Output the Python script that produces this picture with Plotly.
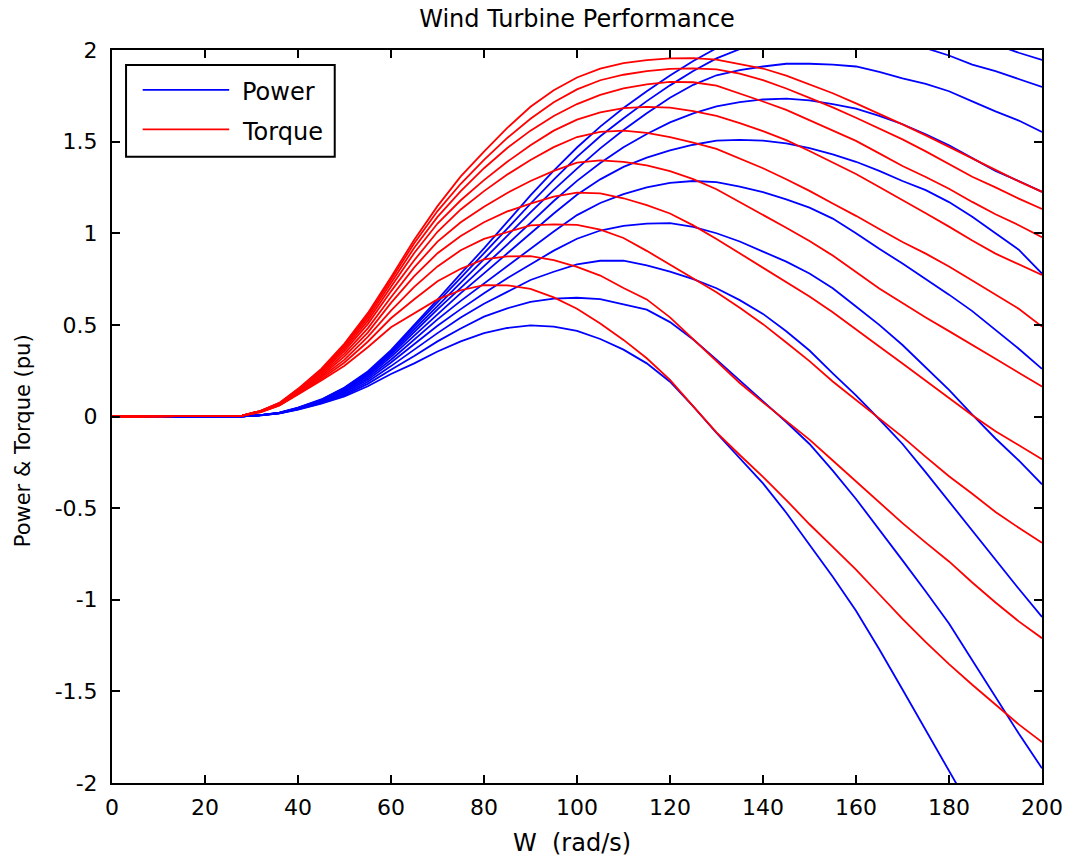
import plotly.graph_objects as go

# Shaft speed samples (rad/s)
w = [0, 28, 32, 36, 40, 45, 50, 55, 60, 65, 70, 75, 80, 85, 90, 95, 100,
     105, 110, 115, 120, 125, 130, 135, 140, 145, 150, 155, 160, 165, 170,
     175, 180, 185, 190, 195, 200]

# Turbine power (pu), one list per wind speed
power_1 = [0, .001, .006, .017, .038, .07, .11, .165, .232, .29, .355, .41, .455, .483, .497, .49, .467,
           .423, .365, .29, .19, .055, -.09, -.225, -.365, -.525, -.70, -.875, -1.06, -1.27, -1.49,
           -1.71, -1.93, -2.15, -2.37, -2.6, -2.82]
power_2 = [0, .001, .006, .017, .039, .073, .117, .178, .255, .33, .41, .48, .545, .59, .625, .643, .648,
           .641, .612, .583, .515, .42, .31, .196, .085, -.03, -.15, -.295, -.45, -.615, -.785,
           -.955, -1.13, -1.33, -1.53, -1.73, -1.92]
power_3 = [0, .001, .007, .018, .041, .076, .123, .19, .275, .365, .455, .54, .615, .68, .745, .79, .83,
           .85, .85, .825, .79, .75, .70, .635, .56, .465, .36, .235, .115, -.015, -.15,
           -.305, -.465, -.62, -.785, -.94, -1.094]
power_4 = [0, .001, .007, .018, .042, .079, .13, .2, .295, .395, .495, .586, .673, .755, .83, .905, .97,
           1.015, 1.04, 1.052, 1.055, 1.035, 1.0, .955, .90, .845, .78, .70, .60, .50, .39,
           .27, .145, .01, -.12, -.24, -.37]
power_5 = [0, .001, .007, .019, .043, .082, .136, .21, .31, .42, .53, .631, .727, .823, .918, 1.01, 1.099,
           1.165, 1.213, 1.25, 1.275, 1.285, 1.279, 1.255, 1.225, 1.185, 1.14, 1.08, 1.0, .915, .835,
           .75, .665, .575, .475, .37, .26]
power_6 = [0, .001, .007, .019, .044, .085, .142, .22, .325, .44, .56, .673, .781, .89, 1.0, 1.108, 1.21,
           1.294, 1.362, 1.413, 1.452, 1.483, 1.506, 1.51, 1.505, 1.49, 1.465, 1.43, 1.39, 1.34, 1.285,
           1.235, 1.17, 1.09, 1.0, .91, .78]
power_7 = [0, .001, .008, .02, .045, .087, .147, .228, .337, .46, .585, .702, .819, .938, 1.057, 1.176, 1.286,
           1.383, 1.469, 1.542, 1.605, 1.654, 1.692, 1.715, 1.73, 1.735, 1.725, 1.705, 1.68, 1.64, 1.595,
           1.54, 1.48, 1.41, 1.34, 1.285, 1.226]
power_8 = [0, .001, .008, .02, .046, .089, .151, .235, .347, .475, .605, .732, .86, .989, 1.114, 1.237, 1.353,
           1.463, 1.563, 1.655, 1.739, 1.81, 1.862, 1.89, 1.91, 1.925, 1.925, 1.92, 1.91, 1.88, 1.845,
           1.815, 1.775, 1.72, 1.665, 1.615, 1.553]
power_9 = [0, .001, .008, .021, .047, .091, .155, .241, .355, .488, .623, .756, .889, 1.025, 1.161, 1.293, 1.417,
           1.529, 1.628, 1.721, 1.807, 1.885, 1.954, 2.005, 2.04, 2.06, 2.07, 2.075, 2.07, 2.06, 2.04,
           2.01, 1.97, 1.92, 1.885, 1.84, 1.798]
power_10 = [0, .001, .008, .021, .048, .093, .158, .246, .362, .498, .638, .78, .917, 1.062, 1.207, 1.342, 1.468,
            1.582, 1.683, 1.775, 1.861, 1.94, 2.01, 2.06, 2.11, 2.14, 2.16, 2.17, 2.17, 2.165, 2.15,
            2.13, 2.10, 2.07, 2.03, 1.985, 1.946]

# Turbine torque (pu), same wind speeds
torque_1 = [0, .005, .024, .06, .12, .196, .277, .378, .487, .562, .639, .689, .717, .716, .696, .65, .588,
            .508, .418, .318, .2, .055, -.087, -.21, -.329, -.456, -.588, -.711, -.835, -.97, -1.104,
            -1.231, -1.351, -1.464, -1.572, -1.68, -1.777]
torque_2 = [0, .005, .024, .06, .123, .204, .295, .408, .536, .64, .738, .806, .858, .874, .875, .853, .816,
            .769, .701, .639, .541, .423, .30, .183, .077, -.026, -.126, -.24, -.354, -.47, -.582,
            -.688, -.791, -.906, -1.015, -1.118, -1.21]
torque_3 = [0, .005, .028, .063, .129, .213, .31, .435, .578, .707, .819, .907, .969, 1.008, 1.043, 1.048, 1.046,
            1.02, .974, .904, .83, .756, .678, .593, .504, .404, .302, .191, .091, -.011, -.111,
            -.22, -.326, -.422, -.521, -.607, -.689]
torque_4 = [0, .005, .028, .063, .132, .221, .328, .458, .62, .766, .891, .985, 1.06, 1.119, 1.162, 1.2, 1.222,
            1.218, 1.191, 1.153, 1.108, 1.043, .969, .891, .81, .734, .655, .569, .473, .382, .289,
            .194, .102, .007, -.08, -.155, -.233]
torque_5 = [0, .005, .028, .067, .135, .23, .343, .481, .651, .814, .954, 1.06, 1.145, 1.22, 1.285, 1.34, 1.385,
            1.398, 1.39, 1.37, 1.339, 1.295, 1.24, 1.171, 1.103, 1.03, .958, .878, .788, .699, .619,
            .54, .466, .392, .315, .239, .164]
torque_6 = [0, .005, .028, .067, .139, .238, .358, .504, .683, .853, 1.008, 1.13, 1.23, 1.32, 1.40, 1.47, 1.525,
            1.553, 1.56, 1.548, 1.525, 1.495, 1.46, 1.409, 1.355, 1.295, 1.231, 1.162, 1.095, 1.023, .952,
            .889, .819, .742, .663, .588, .491]
torque_7 = [0, .005, .031, .07, .142, .244, .37, .522, .708, .892, 1.053, 1.18, 1.29, 1.39, 1.48, 1.56, 1.62,
            1.66, 1.683, 1.69, 1.685, 1.667, 1.64, 1.601, 1.557, 1.508, 1.449, 1.386, 1.323, 1.252, 1.182,
            1.109, 1.036, .96, .889, .83, .772]
torque_8 = [0, .005, .031, .07, .145, .249, .381, .538, .729, .921, 1.089, 1.23, 1.355, 1.465, 1.56, 1.64, 1.705,
            1.755, 1.79, 1.813, 1.826, 1.824, 1.805, 1.764, 1.719, 1.673, 1.617, 1.561, 1.504, 1.436, 1.367,
            1.307, 1.243, 1.171, 1.104, 1.044, .978]
torque_9 = [0, .005, .031, .074, .148, .255, .391, .552, .746, .946, 1.121, 1.27, 1.40, 1.52, 1.625, 1.715, 1.785,
            1.835, 1.865, 1.885, 1.897, 1.90, 1.894, 1.871, 1.836, 1.79, 1.739, 1.687, 1.63, 1.573, 1.512,
            1.447, 1.379, 1.308, 1.25, 1.189, 1.133]
torque_10 = [0, .005, .031, .074, .151, .26, .398, .564, .76, .965, 1.148, 1.31, 1.445, 1.575, 1.69, 1.78, 1.85,
             1.898, 1.928, 1.945, 1.954, 1.956, 1.948, 1.923, 1.899, 1.86, 1.814, 1.764, 1.709, 1.653, 1.594,
             1.534, 1.47, 1.41, 1.346, 1.283, 1.226]

power_sets = [power_1, power_2, power_3, power_4, power_5,
              power_6, power_7, power_8, power_9, power_10]
torque_sets = [torque_1, torque_2, torque_3, torque_4, torque_5,
               torque_6, torque_7, torque_8, torque_9, torque_10]

x_ticks = [0, 20, 40, 60, 80, 100, 120, 140, 160, 180, 200]
y_ticks = [-2, -1.5, -1, -0.5, 0, 0.5, 1, 1.5, 2]
y_tick_text = ["-2", "-1.5", "-1", "-0.5", "0", "0.5", "1", "1.5", "2"]

BLUE = "#0000ff"
RED = "#ff0000"
FONT = "DejaVu Sans, Verdana, sans-serif"

fig = go.Figure()
for p in power_sets:
    fig.add_trace(go.Scatter(x=w, y=p, mode="lines", line=dict(color=BLUE, width=1.8),
                             showlegend=False, hoverinfo="skip"))
for t in torque_sets:
    fig.add_trace(go.Scatter(x=w, y=t, mode="lines", line=dict(color=RED, width=1.8),
                             showlegend=False, hoverinfo="skip"))

axis_common = dict(showline=True, linecolor="black", linewidth=2, mirror="ticks",
                   ticks="inside", ticklen=8, tickwidth=1.5, tickcolor="black",
                   showgrid=False, zeroline=False, automargin=False,
                   tickfont=dict(family=FONT, size=22, color="black"))

fig.update_xaxes(range=[0, 200], tickvals=x_ticks, ticklabelstandoff=4, **axis_common)
fig.update_yaxes(range=[-2, 2], tickvals=y_ticks, ticktext=y_tick_text, ticklabelstandoff=8,
                 **axis_common)

# Legend box drawn in paper coordinates
legend_shapes = [
    dict(type="rect", xref="paper", yref="paper", x0=0.0151, x1=0.2395, y0=0.8545, y1=0.9795,
         line=dict(color="black", width=2), fillcolor="white", layer="above"),
    dict(type="line", xref="paper", yref="paper", x0=0.0330, x1=0.1260, y0=0.9457, y1=0.9457,
         line=dict(color=BLUE, width=1.8), layer="above"),
    dict(type="line", xref="paper", yref="paper", x0=0.0330, x1=0.1260, y0=0.8916, y1=0.8916,
         line=dict(color=RED, width=1.8), layer="above"),
]
text_labels = [
    dict(text="Power", x=0.1375, y=0.9430, xref="paper", yref="paper", xanchor="left",
         yanchor="middle", showarrow=False, font=dict(family=FONT, size=24, color="black")),
    dict(text="Torque", x=0.1375, y=0.8885, xref="paper", yref="paper", xanchor="left",
         yanchor="middle", showarrow=False, font=dict(family=FONT, size=24, color="black")),
    # horizontal axis label
    dict(text="W  (rad/s)", x=0.4946, y=-0.0818, xref="paper", yref="paper",
         xanchor="center", yanchor="middle", showarrow=False,
         font=dict(family=FONT, size=24, color="black")),
    # vertical axis label
    dict(text="Power & Torque (pu)", x=-0.0957, y=0.4676, xref="paper", yref="paper",
         xanchor="center", yanchor="middle", textangle=-90, showarrow=False,
         font=dict(family=FONT, size=21, color="black")),
]

fig.update_layout(
    width=1068, height=860,
    margin=dict(l=112, r=26, t=50, b=77),
    paper_bgcolor="white", plot_bgcolor="white",
    title=dict(text="Wind Turbine Performance", x=0.5403, xanchor="center", y=0.978, yanchor="middle",
               font=dict(family=FONT, size=24, color="black")),
    shapes=legend_shapes,
    annotations=text_labels,
    showlegend=False,
)

fig.write_html("out.html")
